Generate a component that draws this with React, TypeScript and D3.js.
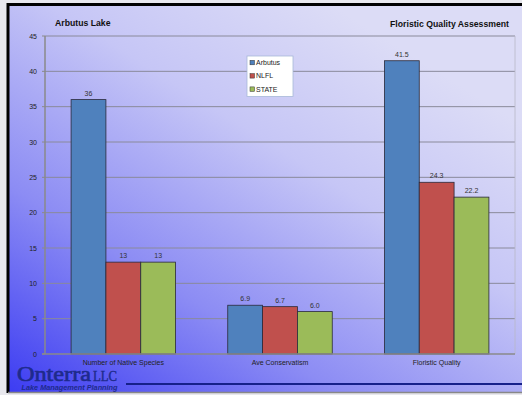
import React from "react";
import * as d3 from "d3";

const categories = ["Number of Native Species", "Ave Conservatism", "Floristic Quality"];
const seriesNames = ["Arbutus", "NLFL", "STATE"];
const arbutus = [36, 6.9, 41.5];
const nlfl = [13, 6.7, 24.3];
const state = [13, 6.0, 22.2];
const valueLabels = [["36", "6.9", "41.5"], ["13", "6.7", "24.3"], ["13", "6.0", "22.2"]];
const yTicks = [0, 5, 10, 15, 20, 25, 30, 35, 40, 45];

const colors = ["#4f81bd", "#c0504d", "#9bbb59"];
const FONT = "'Liberation Sans', Arial, sans-serif";
const SERIF = "'Liberation Serif', 'DejaVu Serif', serif";

export default function App() {
  const W = 522, H = 395;
  const plot = { left: 45, right: 515, top: 36, bottom: 354 };
  const series = [arbutus, nlfl, state];
  const x0 = d3.scaleBand().domain(categories).range([plot.left, plot.right]).paddingInner(0.333).paddingOuter(0.1665);
  const x1 = d3.scaleBand().domain(seriesNames).range([0, x0.bandwidth()]);
  const y = d3.scaleLinear().domain([0, 45]).range([plot.bottom, plot.top]);

  return (
    <svg width={W} height={H} style={{ position: "absolute", left: 0, top: 0, display: "block" }} fontFamily={FONT}>
      <defs>
        <linearGradient id="bg" x1="0" y1="1" x2="0.75" y2="0.1">
          <stop offset="0" stopColor="#3c3cf2" />
          <stop offset="0.35" stopColor="#8c8cf4" />
          <stop offset="0.7" stopColor="#c6c6f6" />
          <stop offset="1" stopColor="#dcdcf6" />
        </linearGradient>
      </defs>
      <rect x={0} y={0} width={W} height={H} fill="#e8e8ee" />
      <rect x={8} y={5} width={W - 8} height={387} fill="url(#bg)" />
      <line x1={8} y1={4.5} x2={W} y2={4.5} stroke="#000" strokeWidth={3} />
      <line x1={8} y1={3} x2={8} y2={393} stroke="#000" strokeWidth={3} />
      <line x1={8} y1={392.5} x2={W} y2={392.5} stroke="#888" strokeWidth={1.5} />

      {/* gridlines */}
      {yTicks.filter(t => t > 0).map(t => (
        <line key={t} x1={plot.left} x2={plot.right} y1={y(t)} y2={y(t)} stroke="#8a8a9a" strokeWidth={1} />
      ))}
      <line x1={plot.right} x2={plot.right} y1={plot.top} y2={plot.bottom} stroke="#b8b8c8" strokeWidth={0.8} />

      {/* bars */}
      {categories.map((c, ci) => (
        <g key={c} transform={`translate(${x0(c)},0)`}>
          {seriesNames.map((s, si) => {
            const v = series[si][ci];
            const bx = x1(s)!;
            return (
              <g key={s}>
                <rect x={bx} y={y(v)} width={x1.bandwidth()} height={y(0) - y(v)} fill={colors[si]} stroke="#2a2a3a" strokeWidth={0.8} />
                <text x={bx + x1.bandwidth() / 2} y={y(v) - 4} textAnchor="middle" fontSize={7} fill="#333">{valueLabels[si][ci]}</text>
              </g>
            );
          })}
        </g>
      ))}

      {/* axes */}
      <line x1={plot.left} x2={plot.left} y1={plot.top} y2={plot.bottom} stroke="#8a8a8a" strokeWidth={1.5} />
      <line x1={plot.left - 3} x2={plot.right} y1={plot.bottom} y2={plot.bottom} stroke="#8a8a8a" strokeWidth={1.5} />
      {yTicks.map(t => (
        <g key={t}>
          <line x1={plot.left - 3} x2={plot.left} y1={y(t)} y2={y(t)} stroke="#8a8a8a" strokeWidth={1} />
          <text x={37} y={y(t) + 2.5} textAnchor="end" fontSize={7} fill="#222">{t}</text>
        </g>
      ))}
      {categories.map(c => (
        <text key={c} x={x0(c)! + x0.bandwidth() / 2} y={365} textAnchor="middle" fontSize={7} fill="#222">{c}</text>
      ))}

      {/* titles */}
      <text x={55} y={26} fontSize={8.7} fontWeight="bold" fill="#111">Arbutus Lake</text>
      <text x={509} y={27} textAnchor="end" fontSize={8.7} fontWeight="bold" fill="#111">Floristic Quality Assessment</text>

      {/* legend */}
      <rect x={247} y={56} width={46} height={40.5} fill="#fff" stroke="#a8b8d8" strokeWidth={0.8} />
      {seriesNames.map((s, i) => (
        <g key={s} transform={`translate(250,${62.5 + i * 13.3})`}>
          <rect x={0} y={-2.2} width={4.5} height={4.5} fill={colors[i]} stroke="#333" strokeWidth={0.5} />
          <text x={6} y={2.5} fontSize={7} fill="#222">{s}</text>
        </g>
      ))}

      {/* logo */}
      <text x={17} y={381} fontFamily={SERIF} fontSize={20} fill="#1e2a8c" stroke="#1e2a8c" strokeWidth={0.6} textLength={74} lengthAdjust="spacingAndGlyphs">Onterra</text>
      <text x={93} y={381} fontFamily={SERIF} fontSize={14} fill="#1e2a8c" stroke="#1e2a8c" strokeWidth={0.4} textLength={24} lengthAdjust="spacingAndGlyphs">LLC</text>
      <text x={21.5} y={389.5} fontSize={7.2} fontStyle="italic" fontWeight="bold" fill="#1e2a8c" textLength={96} lengthAdjust="spacingAndGlyphs">Lake Management Planning</text>
      <line x1={126} x2={W} y1={384} y2={384} stroke="#16208a" strokeWidth={2} />
    </svg>
  );
}
